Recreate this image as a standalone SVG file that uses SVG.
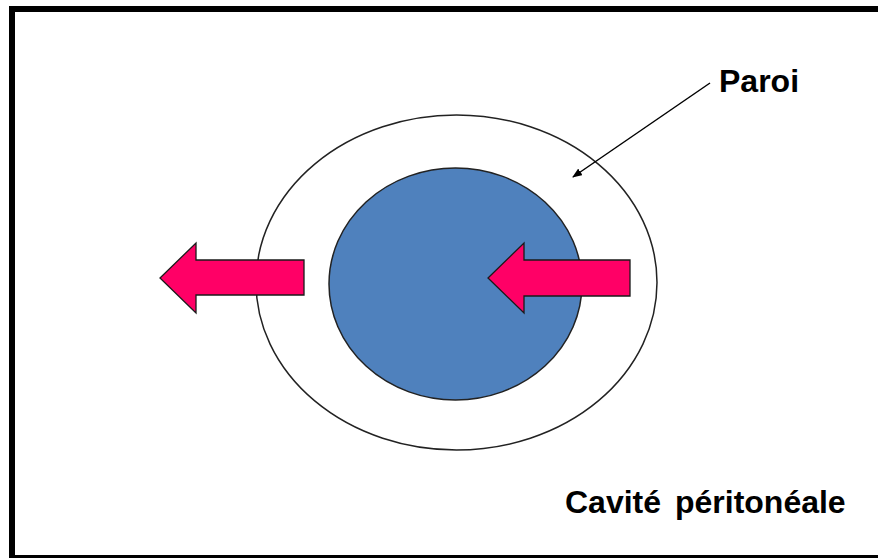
<svg xmlns="http://www.w3.org/2000/svg" width="878" height="558" viewBox="0 0 878 558">
  <style>
    .label { font-family: "Liberation Sans", Arial, sans-serif; font-weight: bold; font-size: 32px; fill: #000; }
    .flow { fill: #FF0066; stroke: #1a1a1a; stroke-width: 1.3; stroke-linejoin: miter; }
    .wall { fill: #fff; stroke: #222; stroke-width: 1.5; }
    .lumen { fill: #4F81BD; stroke: #222; stroke-width: 1.5; }
  </style>
  <defs>
    <marker id="head" markerWidth="10" markerHeight="8" refX="9" refY="4" orient="auto" markerUnits="userSpaceOnUse">
      <path d="M0,0 L10,4 L0,8 Z" fill="#000"/>
    </marker>
  </defs>

  <!-- frame -->
  <rect x="12" y="9" width="880" height="549" fill="#fff" stroke="#000" stroke-width="6"/>

  <!-- wall (outer ring) -->
  <g id="paroi">
    <ellipse class="wall" cx="456.5" cy="282.5" rx="200.5" ry="167.5"/>
  </g>

  <!-- inner lumen -->
  <g id="lumen">
    <ellipse class="lumen" cx="455.5" cy="284" rx="126.5" ry="116"/>
  </g>

  <!-- flow arrows -->
  <g id="arrow-inner">
    <polygon class="flow" points="630,260 524,260 524,243 488,278 524,313 524,296 630,296"/>
  </g>
  <g id="arrow-outer">
    <polygon class="flow" points="304,260 196,260 196,243 160,278 196,313 196,295 304,295"/>
  </g>

  <!-- labels -->
  <g id="label-paroi">
    <text class="label" x="719" y="92">Paroi</text>
  </g>
  <g id="label-cavite">
    <text class="label" x="565" y="513" word-spacing="5">Cavité péritonéale</text>
  </g>

  <!-- connectors -->
  <g id="connectors">
    <line x1="710" y1="83" x2="573" y2="177" stroke="#000" stroke-width="1.5" marker-end="url(#head)"/>
  </g>
</svg>
